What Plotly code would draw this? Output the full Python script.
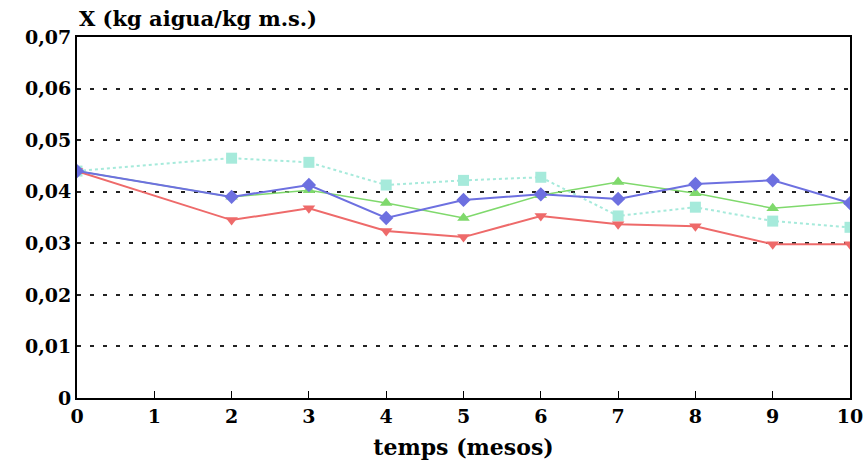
import plotly.graph_objects as go

months = [0, 2, 3, 4, 5, 6, 7, 8, 9, 10]
blue_vals = [0.0440, 0.0390, 0.0413, 0.0349, 0.0384, 0.0395, 0.0386, 0.0415, 0.0422, 0.0378]
green_vals = [0.0440, 0.0390, 0.0403, 0.0378, 0.0349, 0.0393, 0.0419, 0.0397, 0.0368, 0.0380]
cyan_vals = [0.0440, 0.0465, 0.0457, 0.0413, 0.0422, 0.0428, 0.0353, 0.0370, 0.0343, 0.0331]
red_vals = [0.0440, 0.0345, 0.0368, 0.0324, 0.0312, 0.0353, 0.0337, 0.0333, 0.0298, 0.0298]

y_ticks = [0, 0.01, 0.02, 0.03, 0.04, 0.05, 0.06, 0.07]
y_labels = ["0", "0,01", "0,02", "0,03", "0,04", "0,05", "0,06", "0,07"]
x_ticks = list(range(0, 11))

series = [
    ("cyan", cyan_vals, "#a6eadb", "square", "dot", 2),
    ("green", green_vals, "#7fd96c", "triangle-up", "solid", 1.5),
    ("red", red_vals, "#ee6a6a", "triangle-down", "solid", 2),
    ("blue", blue_vals, "#6d70e0", "diamond", "solid", 2),
]

fig = go.Figure()
for name, vals, col, sym, dash, w in series:
    fig.add_trace(go.Scatter(
        x=months, y=vals, mode="lines+markers", name=name,
        line=dict(color=col, width=w, dash=dash),
        marker=dict(symbol=sym, size=11, color=col),
        showlegend=False,
    ))

fam = "DejaVu Serif, serif"

fig.update_layout(
    width=867, height=469,
    margin=dict(l=77, r=17, t=37, b=71, autoexpand=False),
    paper_bgcolor="white", plot_bgcolor="white",
    font=dict(family=fam, size=20, color="black"),
    xaxis=dict(
        range=[0, 10], tickvals=x_ticks, ticktext=["<b>%d</b>" % v for v in x_ticks],
        ticks="inside", ticklen=7, tickcolor="black", automargin=False,
        showgrid=False, zeroline=False, showline=True, linecolor="black", linewidth=2,
        mirror=True, tickfont=dict(family=fam, size=19, color="black"),
        title=dict(text="<b>temps (mesos)</b>", font=dict(family=fam, size=22), standoff=14),
    ),
    yaxis=dict(
        range=[0, 0.07], tickvals=y_ticks, ticktext=["<b>%s</b>" % t for t in y_labels],
        ticks="", showgrid=True, gridcolor="#222222", griddash="4px,9px", gridwidth=1.6,
        automargin=False,
        zeroline=False, showline=True, linecolor="black", linewidth=2, mirror=True,
        tickfont=dict(family=fam, size=19, color="black"),
    ),
    annotations=[dict(
        text="<b>X (kg aigua/kg m.s.)</b>", xref="paper", yref="paper",
        x=0, y=1, xanchor="left", yanchor="bottom", yshift=4, showarrow=False,
        font=dict(family=fam, size=21, color="black"),
    )],
)

fig.write_html("out.html")
